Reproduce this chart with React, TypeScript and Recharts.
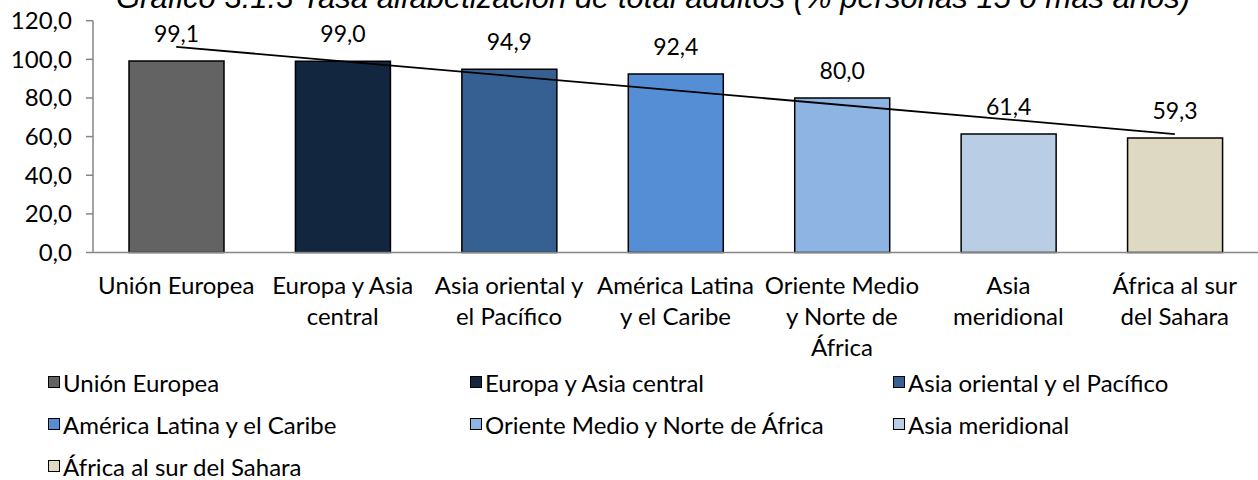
import React from 'react';
import { ComposedChart, Bar, Line, XAxis, YAxis, Cell, LabelList } from 'recharts';

const categories = [
  'Unión Europea',
  'Europa y Asia central',
  'Asia oriental y el Pacífico',
  'América Latina y el Caribe',
  'Oriente Medio y Norte de África',
  'Asia meridional',
  'África al sur del Sahara',
];
const tickLabels = [
  'Unión Europea',
  'Europa y Asia\ncentral',
  'Asia oriental y\nel Pacífico',
  'América Latina\ny el Caribe',
  'Oriente Medio\ny Norte de\nÁfrica',
  'Asia\nmeridional',
  'África al sur\ndel Sahara',
];
const values = [99.1, 99.0, 94.9, 92.4, 80.0, 61.4, 59.3];
// trend line end points (straight line between them)
const trend: (number | null)[] = [106.5, null, null, null, null, null, 61.3];
const colors = ['#636363', '#13263F', '#376092', '#558ED5', '#8EB4E3', '#B9CDE5', '#DDD9C3'];
const yTicks = [0, 20, 40, 60, 80, 100, 120];
const title = 'Gráfico 3.1.3 Tasa alfabetización de total adultos (% personas 15 o más años)';

const data = categories.map((c, i) => ({ name: c, value: values[i], trend: trend[i] }));

const FONT = 'Lato, "Noto Sans", sans-serif';
const fmt = (v: number) => v.toFixed(1).replace('.', ',');

const XTick = (props: any) => {
  const { x, y, payload } = props;
  const idx = payload.index ?? categories.indexOf(payload.value);
  const lines = (tickLabels[idx] ?? String(payload.value)).split('\n');
  return (
    <g transform={`translate(${x},${y})`}>
      {lines.map((l, i) => (
        <text key={i} x={0} y={41 + i * 31} textAnchor="middle" fontSize={24} fill="#000" fontFamily={FONT}>
          {l}
        </text>
      ))}
    </g>
  );
};

const BarLabel = (props: any) => {
  const { x, y, width, value } = props;
  return (
    <text x={x + width / 2} y={y - 19} textAnchor="middle" fontSize={23} fill="#000" fontFamily={FONT}>
      {fmt(value)}
    </text>
  );
};

const legendCols = [48, 470, 893];
const legendRows = [382, 424, 466];

export default function App() {
  return (
    <div style={{ position: 'absolute', left: 0, top: 0, width: 1258, height: 480, background: '#fff', overflow: 'hidden' }}>
      <ComposedChart
        width={1258}
        height={370}
        data={data}
        margin={{ top: 20.7, right: 0, bottom: 0, left: 0 }}
      >
        <YAxis
          domain={[0, 120]}
          ticks={yTicks}
          interval={0}
          width={93}
          tickFormatter={fmt}
          axisLine={{ stroke: '#868686', strokeWidth: 1.5 }}
          tickLine={{ stroke: '#868686', strokeWidth: 1.5 }}
          tickSize={7}
          tickMargin={14}
          tick={{ fill: '#000', fontSize: 24, fontFamily: FONT }}
        />
        <XAxis
          dataKey="name"
          height={117.5}
          interval={0}
          tickLine={false}
          tickSize={0}
          tickMargin={0}
          axisLine={{ stroke: '#868686', strokeWidth: 1.5 }}
          tick={<XTick />}
        />
        <Bar dataKey="value" barSize={95} stroke="#000" strokeWidth={1.5} isAnimationActive={false}>
          {data.map((d, i) => (
            <Cell key={i} fill={colors[i]} />
          ))}
          <LabelList dataKey="value" content={<BarLabel />} />
        </Bar>
        <Line
          dataKey="trend"
          connectNulls
          stroke="#000"
          strokeWidth={1.8}
          dot={false}
          activeDot={false}
          isAnimationActive={false}
        />
      </ComposedChart>
      <svg width={1258} height={40} style={{ position: 'absolute', left: 0, top: 0 }}>
        <text x={653} y={8} textAnchor="middle" fontSize={31} fontStyle="italic" fill="#000" fontFamily='"Liberation Sans", Arial, sans-serif'>
          {title}
        </text>
      </svg>
      {categories.map((c, i) => {
        const col = legendCols[i % 3];
        const row = legendRows[Math.floor(i / 3)];
        return (
          <div
            key={i}
            style={{
              position: 'absolute',
              left: col,
              top: row - 15,
              height: 30,
              display: 'flex',
              alignItems: 'center',
              fontFamily: FONT,
              fontSize: 24,
              color: '#000',
              whiteSpace: 'nowrap',
            }}
          >
            <span
              style={{
                display: 'inline-block',
                width: 10,
                height: 10,
                background: colors[i],
                border: '1.5px solid #000',
                marginRight: 3,
              }}
            />
            {c}
          </div>
        );
      })}
    </div>
  );
}
